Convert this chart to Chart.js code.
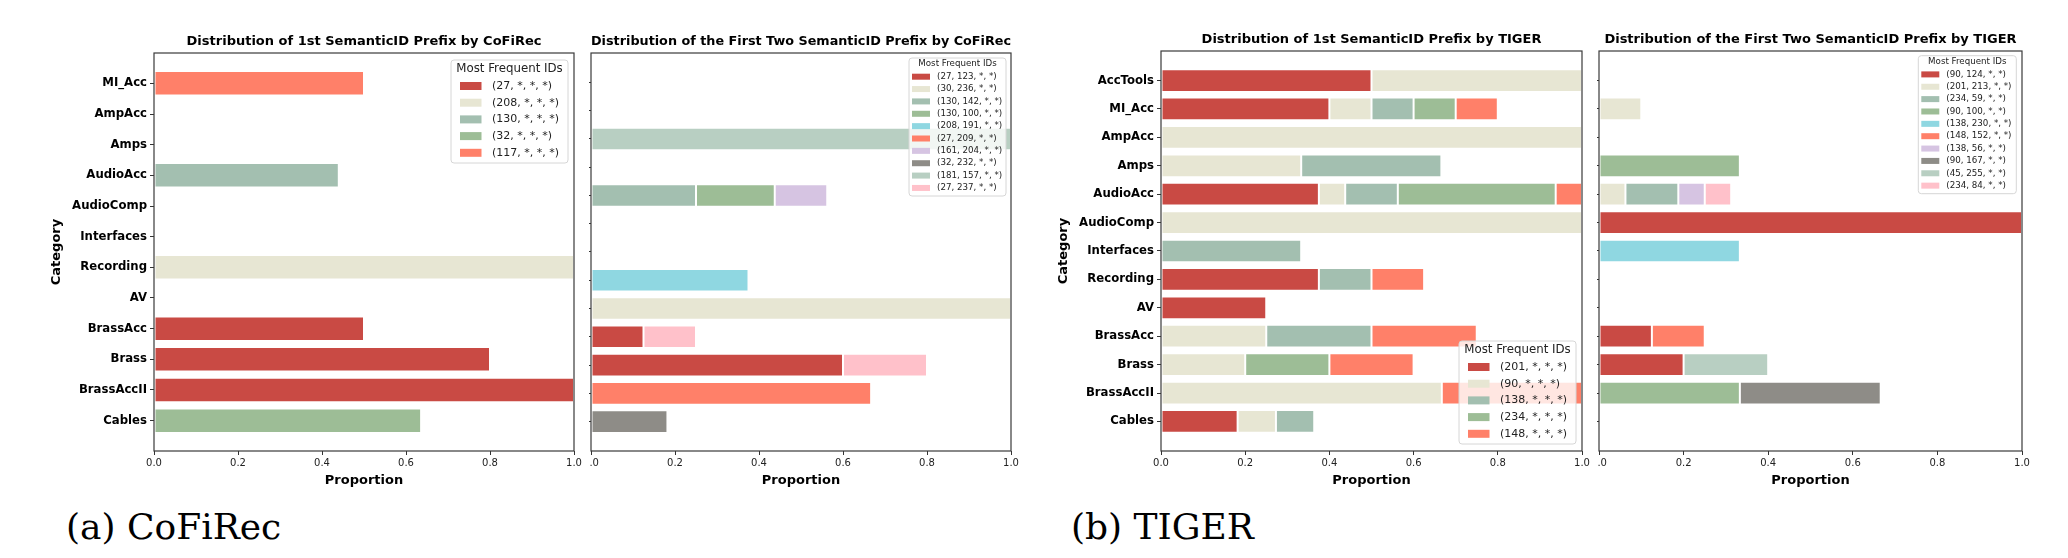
<!DOCTYPE html>
<html>
<head>
<meta charset="utf-8">
<script src="https://cdn.jsdelivr.net/npm/chart.js@4.4.1/dist/chart.umd.min.js"></script>
<style>
  body { margin: 0; background: #fff; }
  #page { position: relative; width: 2068px; height: 558px; overflow: hidden; }
  .panel { position: absolute; top: 0; height: 500px; }
  .caption {
    position: absolute; top: 509px; font-family: "DejaVu Serif", serif;
    font-size: 36px; line-height: 36px; color: #000; white-space: nowrap;
  }
</style>
</head>
<body>
<div id="page">
  <div class="panel" style="left:0px;width:590px"><canvas id="cofiPrimero"></canvas></div>
  <div class="panel" style="left:589px;width:438px"><canvas id="cofiDos"></canvas></div>
  <div class="panel" style="left:1020px;width:578px"><canvas id="tigerPrimero"></canvas></div>
  <div class="panel" style="left:1597px;width:441px"><canvas id="tigerDos"></canvas></div>
  <div class="caption" style="left:66px">(a) CoFiRec</div>
  <div class="caption" style="left:1071px">(b) TIGER</div>
</div>
<script>
Chart.defaults.font.family = "DejaVu Sans";
Chart.defaults.color = "#222";

// categories (top to bottom)
const catsCofi = ["MI_Acc", "AmpAcc", "Amps", "AudioAcc", "AudioComp", "Interfaces",
  "Recording", "AV", "BrassAcc", "Brass", "BrassAccII", "Cables"];
const catsTiger = ["AccTools", "MI_Acc", "AmpAcc", "Amps", "AudioAcc", "AudioComp", "Interfaces",
  "Recording", "AV", "BrassAcc", "Brass", "BrassAccII", "Cables"];

const xTicks = [0, 0.2, 0.4, 0.6, 0.8, 1.0];
const legendTitle = "Most Frequent IDs";

/* CoFiRec, 1st prefix (rows follow catsCofi) */
const cofiIds1 = ["(27, *, *, *)", "(208, *, *, *)", "(130, *, *, *)", "(32, *, *, *)", "(117, *, *, *)"];
const cofiVals1 = [
  [0, 0, 0, 0, 0, 0, 0, 0, 0.5, 0.8, 1.0, 0],
  [0, 0, 0, 0, 0, 0, 1.0, 0, 0, 0, 0, 0],
  [0, 0, 0, 0.44, 0, 0, 0, 0, 0, 0, 0, 0],
  [0, 0, 0, 0, 0, 0, 0, 0, 0, 0, 0, 0.636],
  [0.5, 0, 0, 0, 0, 0, 0, 0, 0, 0, 0, 0],
];

/* CoFiRec, first two prefixes (rows follow catsTiger) */
const cofiIds2 = ["(27, 123, *, *)", "(30, 236, *, *)", "(130, 142, *, *)", "(130, 100, *, *)",
  "(208, 191, *, *)", "(27, 209, *, *)", "(161, 204, *, *)", "(32, 232, *, *)",
  "(181, 157, *, *)", "(27, 237, *, *)"];
const cofiVals2 = [
  [0, 0, 0, 0, 0, 0, 0, 0, 0, 0.125, 0.6, 0, 0],
  [0, 0, 0, 0, 0, 0, 0, 0, 1.0, 0, 0, 0, 0],
  [0, 0, 0, 0, 0.25, 0, 0, 0, 0, 0, 0, 0, 0],
  [0, 0, 0, 0, 0.1875, 0, 0, 0, 0, 0, 0, 0, 0],
  [0, 0, 0, 0, 0, 0, 0, 0.375, 0, 0, 0, 0, 0],
  [0, 0, 0, 0, 0, 0, 0, 0, 0, 0, 0, 0.667, 0],
  [0, 0, 0, 0, 0.125, 0, 0, 0, 0, 0, 0, 0, 0],
  [0, 0, 0, 0, 0, 0, 0, 0, 0, 0, 0, 0, 0.182],
  [0, 0, 1.0, 0, 0, 0, 0, 0, 0, 0, 0, 0, 0],
  [0, 0, 0, 0, 0, 0, 0, 0, 0, 0.125, 0.2, 0, 0],
];

/* TIGER, 1st prefix */
const tigerIds1 = ["(201, *, *, *)", "(90, *, *, *)", "(138, *, *, *)", "(234, *, *, *)", "(148, *, *, *)"];
const tigerVals1 = [
  [0.5, 0.4, 0, 0, 0.375, 0, 0, 0.375, 0.25, 0, 0, 0, 0.182],
  [0.5, 0.1, 1.0, 0.333, 0.0625, 1.0, 0, 0, 0, 0.25, 0.2, 0.667, 0.091],
  [0, 0.1, 0, 0.333, 0.125, 0, 0.333, 0.125, 0, 0.25, 0, 0, 0.091],
  [0, 0.1, 0, 0, 0.375, 0, 0, 0, 0, 0, 0.2, 0, 0],
  [0, 0.1, 0, 0, 0.0625, 0, 0, 0.125, 0, 0.25, 0.2, 0.333, 0],
];

/* TIGER, first two prefixes */
const tigerIds2 = ["(90, 124, *, *)", "(201, 213, *, *)", "(234, 59, *, *)", "(90, 100, *, *)",
  "(138, 230, *, *)", "(148, 152, *, *)", "(138, 56, *, *)", "(90, 167, *, *)",
  "(45, 255, *, *)", "(234, 84, *, *)"];
const tigerVals2 = [
  [0, 0, 0, 0, 0, 1.0, 0, 0, 0, 0.125, 0.2, 0, 0],
  [0, 0.1, 0, 0, 0.0625, 0, 0, 0, 0, 0, 0, 0, 0],
  [0, 0, 0, 0, 0.125, 0, 0, 0, 0, 0, 0, 0, 0],
  [0, 0, 0, 0.333, 0, 0, 0, 0, 0, 0, 0, 0.333, 0],
  [0, 0, 0, 0, 0, 0, 0.333, 0, 0, 0, 0, 0, 0],
  [0, 0, 0, 0, 0, 0, 0, 0, 0, 0.125, 0, 0, 0],
  [0, 0, 0, 0, 0.0625, 0, 0, 0, 0, 0, 0, 0, 0],
  [0, 0, 0, 0, 0, 0, 0, 0, 0, 0, 0, 0.333, 0],
  [0, 0, 0, 0, 0, 0, 0, 0, 0, 0, 0.2, 0, 0],
  [0, 0, 0, 0, 0.0625, 0, 0, 0, 0, 0, 0, 0, 0],
];

const colores2 = ["#c94a44", "#e7e6d3", "#a3bfb0", "#9dbd96", "#8fd7e1",
  "#ff8069", "#d6c4e2", "#8e8c87", "#b8cfc2", "#ffc1ca"];
const colores1 = ["#c94a44", "#e7e6d3", "#a3bfb0", "#9dbd96", "#ff8069"];

/* box around the plot */
const frame = {
  id: "frame",
  afterDatasetsDraw(chart) {
    const { ctx, chartArea: a } = chart;
    ctx.save();
    ctx.strokeStyle = "#3a3a3a";
    ctx.lineWidth = 1.2;
    ctx.strokeRect(a.left, a.top, a.right - a.left, a.bottom - a.top);
    ctx.restore();
  },
};

/* legend drawn inside the plot, like matplotlib */
const legendBox = {
  id: "legendBox",
  afterDatasetsDraw(chart, args, o) {
    const { ctx, chartArea: a } = chart;
    const x = a.right - o.mx - o.w;
    const y = o.bottom ? a.bottom - o.my - o.h : a.top + o.my;
    ctx.save();
    ctx.beginPath();
    ctx.roundRect(x, y, o.w, o.h, 3);
    ctx.fillStyle = "rgba(255,255,255,0.8)";
    ctx.fill();
    ctx.strokeStyle = "#d6d6d6";
    ctx.lineWidth = 1;
    ctx.stroke();
    ctx.textBaseline = "middle";
    ctx.textAlign = "center";
    ctx.fillStyle = "#222";
    ctx.font = `${o.titleSize}px "DejaVu Sans"`;
    ctx.fillText(legendTitle, x + o.w / 2, y + o.titleY);
    ctx.textAlign = "left";
    ctx.font = `${o.size}px "DejaVu Sans"`;
    chart.data.datasets.forEach((d, i) => {
      const cy = y + o.rowY + i * o.dy;
      ctx.fillStyle = d.backgroundColor;
      ctx.fillRect(x + o.swX, cy - o.swH / 2, o.swW, o.swH);
      ctx.fillStyle = "#222";
      ctx.fillText(d.label, x + o.txtX, cy);
    });
    ctx.restore();
  },
};

function crearPanel(id, titulo, cats, ids, vals, colores, cfg) {
  const pad = 0.05 * (cats.length - 0.2);
  return new Chart(document.getElementById(id), {
    type: "bar",
    data: {
      datasets: ids.map((lab, k) => ({
        label: lab,
        data: cats.map((c, i) => ({ y: i, x: vals[k][i] || null })),
        backgroundColor: colores[k],
        borderColor: "rgba(255,255,255,0.35)",
        borderWidth: 1,
        borderSkipped: false,
        categoryPercentage: 1,
        barPercentage: 0.8,
      })),
    },
    plugins: [frame, legendBox],
    options: {
      indexAxis: "y",
      responsive: true,
      maintainAspectRatio: false,
      animation: false,
      layout: { padding: { left: 0, right: 16, top: 0, bottom: 0 } },
      plugins: {
        legend: { display: false },
        tooltip: { enabled: false },
        title: {
          display: true,
          text: titulo,
          fullSize: false,
          color: "#000",
          font: { size: 13, weight: "bold" },
          padding: { top: cfg.top - 19.6, bottom: 4 },
        },
        legendBox: cfg.legend,
      },
      scales: {
        x: {
          type: "linear",
          min: 0,
          max: 1,
          stacked: true,
          offset: false,
          afterBuildTicks: (s) => { s.ticks = xTicks.map((v) => ({ value: v })); },
          afterFit: (s) => { s.height = 49; s.paddingLeft = 0; s.paddingRight = 0; },
          ticks: { callback: (v) => v.toFixed(1), font: { size: 10 }, color: "#222", padding: 2, maxRotation: 0 },
          grid: { drawOnChartArea: false, offset: false, tickLength: 4, tickColor: "#333" },
          border: { display: false },
          title: {
            display: true, text: "Proportion", color: "#000",
            font: { size: 13, weight: "bold" }, padding: { top: 0, bottom: 12 },
          },
        },
        y: {
          type: "linear",
          reverse: true,
          offset: false,
          min: -0.4 - pad,
          max: cats.length - 0.6 + pad,
          stacked: true,
          afterBuildTicks: (s) => { s.ticks = cats.map((c, i) => ({ value: i })); },
          afterFit: (s) => { s.width = cfg.yWidth; s.paddingTop = 0; s.paddingBottom = 0; },
          ticks: {
            display: cfg.labels,
            autoSkip: false,
            callback: (v) => cats[v],
            font: { size: 11.7, weight: "bold" },
            color: "#000",
            padding: 3,
          },
          grid: { drawOnChartArea: false, offset: false, tickLength: 4, tickColor: "#333" },
          border: { display: false },
          title: {
            display: cfg.labels, text: "Category", color: "#000",
            font: { size: 13, weight: "bold" }, padding: { top: cfg.catPad || 0 },
          },
        },
      },
    },
  });
}

const legendGrande = { w: 117, h: 103, mx: 6, my: 7, titleY: 8.7, rowY: 26, dy: 16.7,
  swX: 9, swW: 21.5, swH: 8, txtX: 41, size: 11, titleSize: 11.8 };
const legendChica = { w: 97, h: 138, mx: 5, my: 5, titleY: 6.2, rowY: 18.7, dy: 12.36,
  swX: 3, swW: 18, swH: 6, txtX: 28, size: 8.7, titleSize: 8.7 };

crearPanel("cofiPrimero", "Distribution of 1st SemanticID Prefix by CoFiRec", catsCofi, cofiIds1, cofiVals1, colores1,
  { top: 53, yWidth: 154, labels: true, catPad: 49, legend: { ...legendGrande } });
crearPanel("cofiDos", "Distribution of the First Two SemanticID Prefix by CoFiRec", catsTiger, cofiIds2, cofiVals2, colores2,
  { top: 53, yWidth: 2, labels: false, legend: { ...legendChica } });
crearPanel("tigerPrimero", "Distribution of 1st SemanticID Prefix by TIGER", catsTiger, tigerIds1, tigerVals1, colores1,
  { top: 51, yWidth: 141, labels: true, catPad: 36, legend: { ...legendGrande, bottom: true } });
crearPanel("tigerDos", "Distribution of the First Two SemanticID Prefix by TIGER", catsTiger, tigerIds2, tigerVals2, colores2,
  { top: 51, yWidth: 2, labels: false, legend: { ...legendChica, w: 98, mx: 5.7, my: 4.7 } });
</script>
</body>
</html>
